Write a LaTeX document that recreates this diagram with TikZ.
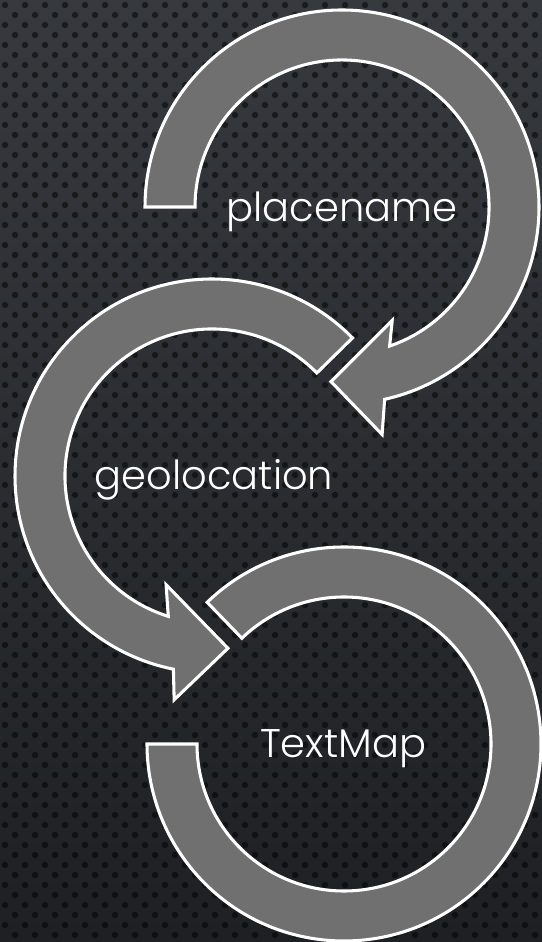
\documentclass[tikz,border=0pt]{standalone}
\usepackage{fontspec}
\newfontfamily\labelfont{Poppins Light}
\definecolor{bgtop}{RGB}{54,57,62}
\definecolor{bgbot}{RGB}{30,32,35}
\definecolor{arrowgray}{RGB}{112,112,112}
\tikzset{
  ringarrow/.style={fill=arrowgray, draw=white, line width=2.3pt, line join=miter},
  dotc/.style={fill=black, fill opacity=0.5},
  lbl/.style={text=white, anchor=base, inner sep=0pt, font=\labelfont\fontsize{30}{36}\selectfont}
}
\begin{document}
\begin{tikzpicture}[x=0.75pt,y=0.75pt]
\useasboundingbox (0,0) rectangle (542,942);
\clip (0,0) rectangle (542,942);
% background
\shade[top color=bgtop, bottom color=bgbot] (0,0) rectangle (542,942);
\foreach \j in {0,...,94} {
  \pgfmathsetmacro\off{mod(\j,2)*10}
  \foreach \i in {0,...,27} {
    \fill[dotc] (\off+20*\i+5, 937-10*\j) circle[radius=3.2];
  }
}
% ring centres (screen y flipped)
\coordinate (c1) at (342,735);
\coordinate (c2) at (212,466);
\coordinate (c3) at (344,198);
% ring 1: clockwise, arrow at bottom
\draw[ringarrow] ([shift={(180:197)}]c1) arc[start angle=180, end angle=-77.5, radius=197]
  -- ([shift={(-80:231)}]c1) -- ([shift={(-93.6:175)}]c1)
  -- ([shift={(-66.1:124)}]c1) -- ([shift={(-71.1:147)}]c1)
  arc[start angle=-71.1, end angle=180, radius=147] -- cycle;
% ring 2: counter-clockwise, arrow at bottom
\draw[ringarrow] ([shift={(44.5:197)}]c2) arc[start angle=44.5, end angle=258.7, radius=197]
  -- ([shift={(260.4:227)}]c2) -- ([shift={(275.3:173)}]c2)
  -- ([shift={(247.1:118)}]c2) -- ([shift={(252.7:147)}]c2)
  arc[start angle=252.7, end angle=44.5, radius=147] -- cycle;
% ring 3: clockwise, no head
\draw[ringarrow] ([shift={(134:197)}]c3) arc[start angle=134, end angle=-180, radius=197]
  -- ([shift={(-180:147)}]c3)
  arc[start angle=-180, end angle=134, radius=147] -- cycle;
% labels
\node[lbl] (t1) at (342,720) {placename};
\node[lbl] (t2) at (214,452) {geolocation};
\node[lbl] (t3) at (343,184) {TextMap};
\end{tikzpicture}
\end{document}
